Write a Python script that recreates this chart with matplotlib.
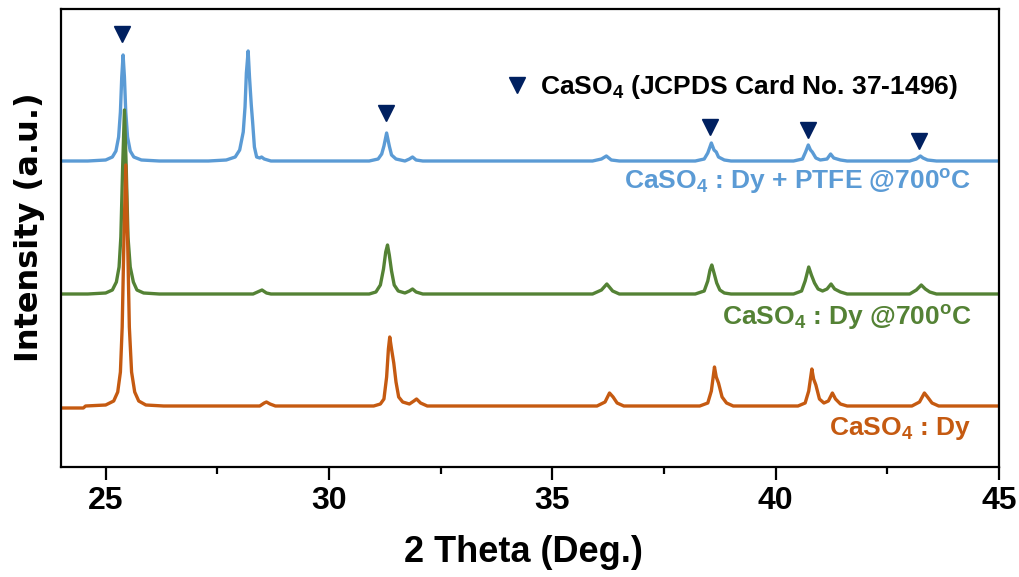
import matplotlib
matplotlib.use("Agg")
import matplotlib.pyplot as plt
from matplotlib import font_manager
from matplotlib.ticker import MultipleLocator

plt.rcParams["mathtext.fontset"] = "custom"
plt.rcParams["mathtext.rm"] = "Liberation Sans:bold"
plt.rcParams["mathtext.default"] = "rm"

# ── Data (2θ in degrees, intensity in offset plot units) ─────────────────────

x_blue = [24.0, 24.6, 25.0, 25.15, 25.23, 25.29, 25.33, 25.36, 25.39, 25.42, 25.45, 25.49, 25.55, 25.63, 25.8, 26.2,
          27.3, 27.7, 27.9, 28.0, 28.08, 28.12, 28.15, 28.19, 28.22, 28.26, 28.29, 28.33, 28.38, 28.45, 28.49, 28.55, 28.7,
          30.9, 31.1, 31.18, 31.23, 31.29, 31.35, 31.4, 31.5, 31.7, 31.8, 31.87, 31.95, 32.1,
          35.9, 36.1, 36.21, 36.32, 36.5,
          38.2, 38.4, 38.48, 38.56, 38.62, 38.67, 38.72, 38.85, 39.0,
          40.4, 40.6, 40.67, 40.73, 40.78, 40.82, 40.9, 41.0, 41.15, 41.23, 41.3, 41.45, 41.6,
          43.0, 43.15, 43.24, 43.3, 43.4, 43.6, 45.0]
y_blue = [306, 306, 307, 310, 316, 330, 355, 390, 412, 390, 355, 330, 316, 310, 307, 306,
          306, 307, 310, 317, 335, 360, 394, 416, 390, 362, 345, 320, 310, 309, 310, 308, 306,
          306, 308, 313, 321, 334, 321, 312, 308, 306, 308, 310, 307, 306,
          306, 308, 311, 307, 306,
          306, 308, 314, 324, 317, 315, 310, 307, 306,
          306, 308, 315, 322, 317, 315, 309, 307, 308, 313, 309, 307, 306,
          306, 308, 311, 309, 307, 306, 306]

x_green = [24.0, 24.6, 25.0, 25.15, 25.24, 25.3, 25.34, 25.38, 25.42, 25.46, 25.5, 25.55, 25.62, 25.7, 25.85, 26.2,
           28.3, 28.45, 28.5, 28.6, 28.7,
           30.9, 31.05, 31.15, 31.22, 31.27, 31.31, 31.35, 31.4, 31.46, 31.55, 31.7, 31.8, 31.87, 31.95, 32.1,
           35.9, 36.1, 36.22, 36.35, 36.5,
           38.2, 38.4, 38.48, 38.53, 38.57, 38.62, 38.68, 38.75, 38.85, 39.0,
           40.4, 40.58, 40.66, 40.74, 40.8, 40.87, 40.95, 41.05, 41.15, 41.24, 41.32, 41.45, 41.6,
           43.0, 43.15, 43.26, 43.35, 43.45, 43.6, 45.0]
y_green = [173, 173, 174, 177, 185, 200, 230, 300, 357, 300, 230, 200, 185, 177, 174, 173,
           173, 176, 177, 174, 173,
           173, 175, 182, 198, 215, 222, 212, 196, 182, 176, 174, 176, 178, 175, 173,
           173, 177, 183, 176, 173,
           173, 176, 186, 197, 202, 194, 184, 177, 174, 173,
           173, 176, 186, 200, 192, 184, 178, 176, 178, 183, 178, 175, 173,
           173, 177, 182, 178, 175, 173, 173]

x_orange = [24.0, 24.5, 24.55, 25.0, 25.18, 25.27, 25.33, 25.37, 25.41, 25.45, 25.49, 25.53, 25.58, 25.65, 25.74, 25.9, 26.3,
            28.45, 28.55, 28.6, 28.68, 28.8,
            31.0, 31.15, 31.23, 31.29, 31.33, 31.36, 31.4, 31.45, 31.5, 31.56, 31.65, 31.8, 31.9, 31.96, 32.05, 32.2,
            36.0, 36.18, 36.28, 36.36, 36.45, 36.6,
            38.3, 38.48, 38.56, 38.63, 38.67, 38.72, 38.8, 38.9, 39.05,
            40.5, 40.66, 40.74, 40.81, 40.85, 40.9, 40.98, 41.08, 41.18, 41.27, 41.34, 41.45, 41.6,
            43.05, 43.22, 43.33, 43.4, 43.5, 43.65, 45.0]
y_orange = [59, 59, 61, 62, 66, 75, 95, 140, 230, 302, 230, 140, 95, 75, 66, 62, 61,
            61, 64, 65, 63, 61,
            61, 63, 68, 90, 118, 130, 118, 104, 85, 70, 65, 63, 66, 68, 64, 61,
            61, 65, 74, 70, 64, 61,
            61, 64, 76, 100, 90, 84, 70, 64, 61,
            61, 64, 76, 98, 88, 82, 68, 64, 66, 74, 68, 63, 61,
            61, 65, 74, 70, 64, 61, 61]

# reference (JCPDS 37-1496) markers
ref_x = [25.37, 31.28, 38.52, 40.72, 43.2]
ref_y = [433, 354, 340, 337, 326]

labels = [r"CaSO$_{4}$ : Dy + PTFE @700$^{\mathrm{o}}$C",
          r"CaSO$_{4}$ : Dy @700$^{\mathrm{o}}$C",
          r"CaSO$_{4}$ : Dy"]
label_y = [285, 150, 38]
xticks = [25, 30, 35, 40, 45]

c_blue, c_green, c_orange, c_ref = "#5B9BD5", "#548235", "#C55A11", "#002060"

names = {f.name for f in font_manager.fontManager.ttflist}
narrow = "Liberation Sans Narrow" if "Liberation Sans Narrow" in names else "Liberation Sans"

# ── Figure ───────────────────────────────────────────────────────────────────

fig = plt.figure(figsize=(10.19, 5.77), dpi=100)
ax = fig.add_axes([61 / 1019, 1 - 467 / 577, 938 / 1019, 458 / 577])

ax.plot(x_blue, y_blue, color=c_blue, lw=2.4, solid_joinstyle="round")
ax.plot(x_green, y_green, color=c_green, lw=2.4, solid_joinstyle="round")
ax.plot(x_orange, y_orange, color=c_orange, lw=2.4, solid_joinstyle="round")

ax.plot(ref_x, ref_y, ls="none", marker="v", ms=11.5, color=c_ref)
ax.plot([34.22], [382], ls="none", marker="v", ms=11.5, color=c_ref)
ax.text(34.72, 380, r"CaSO$_{4}$ (JCPDS Card No. 37-1496)", fontsize=19,
        fontweight="bold", family="Liberation Sans", ha="left", va="center")

for lab, ly, col in zip(labels, label_y, [c_blue, c_green, c_orange]):
    ax.text(44.38, ly, lab, fontsize=19, fontweight="bold", family="Liberation Sans",
            color=col, ha="right", va="center")

ax.set_xlim(24, 45)
ax.set_ylim(0, 458)
ax.set_xticks(xticks)
ax.xaxis.set_minor_locator(MultipleLocator(2.5))
ax.set_yticks([])
ax.tick_params(axis="x", which="major", direction="out", length=9, width=1.6, pad=5)
ax.tick_params(axis="x", which="minor", direction="out", length=5, width=1.6)
for lab in ax.get_xticklabels():
    lab.set_fontfamily(narrow)
    lab.set_fontweight("bold")
    lab.set_fontsize(23)
for sp in ax.spines.values():
    sp.set_linewidth(1.6)

fig.text(523 / 1019, 1 - 553 / 577, "2 Theta (Deg.)", family=narrow, fontweight="bold",
         fontsize=26, ha="center", va="center")
fig.text(30 / 1019, 1 - 227 / 577, "Intensity (a.u.)", family="DejaVu Sans", fontweight="bold",
         fontsize=23, rotation=90, ha="center", va="center")

fig.savefig("out.png", dpi=100)
